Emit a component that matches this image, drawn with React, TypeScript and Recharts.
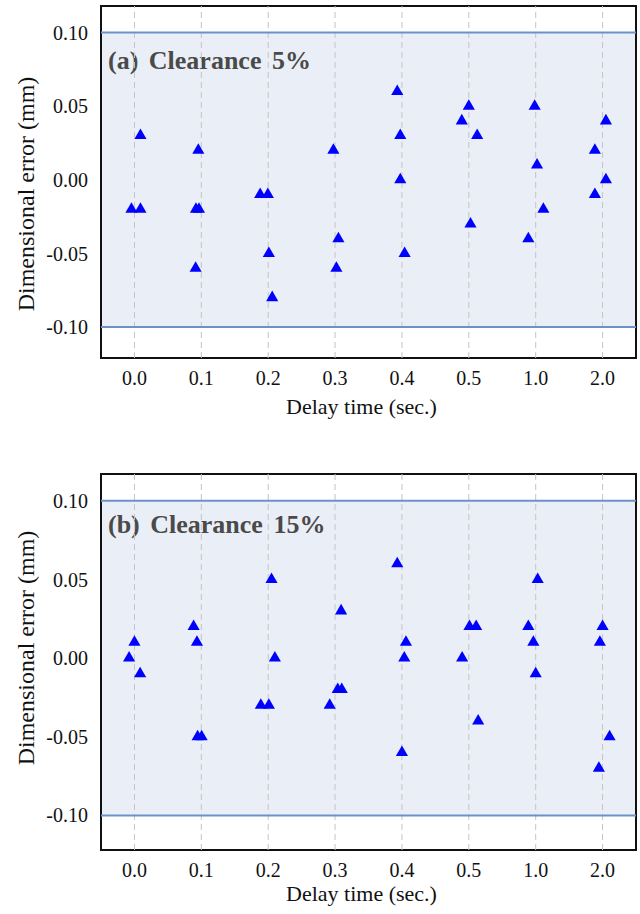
import React from "react";
import {
  ScatterChart,
  Scatter,
  XAxis,
  YAxis,
  ReferenceArea,
  ReferenceLine,
} from "recharts";

// delay time categories (x axis is categorical, points are jittered around each)
const categories = ["0.0", "0.1", "0.2", "0.3", "0.4", "0.5", "1.0", "2.0"];
const yTicks = [-0.1, -0.05, 0, 0.05, 0.1];
const toleranceLimit = 0.1;

// (a) Clearance 5%  - x = category index + jitter
const clearance5X = [
  -0.045, 0.09, 0.09,
  0.955, 0.92, 0.965, 0.915,
  1.88, 1.995, 2.01, 2.06,
  2.975, 3.05, 3.02,
  3.93, 3.975, 3.975, 4.04,
  5.0, 4.895, 5.125, 5.025,
  5.985, 6.02, 6.115, 5.89,
  7.05, 6.885, 7.05, 6.885,
];
const clearance5Y = [
  -0.02, -0.02, 0.03,
  0.02, -0.02, -0.02, -0.06,
  -0.01, -0.01, -0.05, -0.08,
  0.02, -0.04, -0.06,
  0.06, 0.03, 0.0, -0.05,
  0.05, 0.04, 0.03, -0.03,
  0.05, 0.01, -0.02, -0.04,
  0.04, 0.02, 0.0, -0.01,
];

// (b) Clearance 15%
const clearance15X = [
  0.0, -0.08, 0.085,
  0.885, 0.935, 0.945, 1.005,
  2.05, 2.1, 1.89, 2.01,
  3.09, 3.04, 3.1, 2.92,
  3.93, 4.035, 4.06, 4.0,
  5.01, 5.11, 4.9, 5.14,
  6.03, 5.89, 5.965, 6.0,
  7.0, 6.96, 7.105, 6.945,
];
const clearance15Y = [
  0.01, 0.0, -0.01,
  0.02, 0.01, -0.05, -0.05,
  0.05, 0.0, -0.03, -0.03,
  0.03, -0.02, -0.02, -0.03,
  0.06, 0.0, 0.01, -0.06,
  0.02, 0.02, 0.0, -0.04,
  0.05, 0.02, 0.01, -0.01,
  0.02, 0.01, -0.05, -0.07,
];

const serif = "Liberation Serif";

// force the serif face on every chart text
const fontCss = `
  .err-chart, .err-chart svg, .err-chart text, .err-chart tspan {
    font-family: "Liberation Serif", serif !important;
  }
`;

interface PanelProps {
  title: string;
  xs: number[];
  ys: number[];
  yDomain: [number, number];
  height: number;
  xAxisHeight: number;
  xLabelDy: number;
  titleDy: number;
  yLabelShift: number;
}

function ErrorPanel({
  title,
  xs,
  ys,
  yDomain,
  height,
  xAxisHeight,
  xLabelDy,
  titleDy,
  yLabelShift,
}: PanelProps) {
  const data = xs.map((x, i) => ({ x, y: ys[i] }));

  return (
    <ScatterChart
      width={640}
      height={height}
      margin={{ top: 6, right: 4, bottom: 0, left: 0 }}
      className="err-chart"
    >
      <XAxis
        type="number"
        dataKey="x"
        domain={[-0.5, categories.length - 0.5]}
        ticks={categories.map((_c, i) => i)}
        tickFormatter={(v: number) => categories[v] ?? ""}
        allowDataOverflow
        axisLine={false}
        tickLine={false}
        tickSize={0}
        tickMargin={13}
        height={xAxisHeight}
        tick={{ fill: "#111", fontSize: 20, fontFamily: serif }}
        label={{
          content: ({ viewBox }: any) => (
            <text
              x={viewBox.x + viewBox.width / 2 - 7}
              y={viewBox.y + xLabelDy}
              textAnchor="middle"
              fontSize={22}
              fontFamily={serif}
              fill="#111"
            >
              Delay time (sec.)
            </text>
          ),
        }}
      />
      <YAxis
        type="number"
        dataKey="y"
        domain={yDomain}
        ticks={yTicks}
        tickFormatter={(v: number) => v.toFixed(2)}
        allowDataOverflow
        axisLine={false}
        tickLine={false}
        tickSize={0}
        tickMargin={13}
        width={101}
        tick={{ fill: "#111", fontSize: 20, fontFamily: serif }}
        label={{
          content: ({ viewBox }: any) => {
            const cx = 26;
            const cy = viewBox.y + viewBox.height / 2 + yLabelShift;
            return (
              <text
                x={cx}
                y={cy}
                transform={`rotate(-90, ${cx}, ${cy})`}
                textAnchor="middle"
                dominantBaseline="central"
                fontSize={24}
                fontFamily={serif}
                fill="#111"
              >
                Dimensional error (mm)
              </text>
            );
          },
        }}
      />
      {/* tolerance band */}
      <ReferenceArea
        x1={-0.5}
        x2={categories.length - 0.5}
        y1={-toleranceLimit}
        y2={toleranceLimit}
        fill="#eaeff7"
        fillOpacity={1}
        stroke="none"
        label={{
          content: ({ viewBox }: any) => (
            <text
              x={viewBox.x + 7}
              y={viewBox.y + titleDy}
              fontSize={26}
              fontWeight="bold"
              fontFamily={serif}
              wordSpacing={4}
              fill="#4a4a4a"
            >
              {title}
            </text>
          ),
        }}
      />
      {categories.map((c, i) => (
        <ReferenceLine
          key={c}
          x={i}
          stroke="#c4c4c4"
          strokeWidth={1}
          strokeDasharray="6 4"
        />
      ))}
      <ReferenceLine y={toleranceLimit} stroke="#6d92c9" strokeWidth={2} />
      <ReferenceLine y={-toleranceLimit} stroke="#6d92c9" strokeWidth={2} />
      {/* plot frame */}
      <ReferenceArea
        x1={-0.5}
        x2={categories.length - 0.5}
        y1={yDomain[0]}
        y2={yDomain[1]}
        fill="none"
        stroke="#111"
        strokeWidth={2}
      />
      <Scatter
        data={data}
        shape="triangle"
        size={24}
        fill="#0000ff"
        legendType="none"
        isAnimationActive={false}
      />
    </ScatterChart>
  );
}

export default function App() {
  return (
    <div
      style={{
        position: "absolute",
        left: 0,
        top: 0,
        width: 640,
        height: 914,
        background: "#fff",
      }}
    >
      <style>{fontCss}</style>
      <div style={{ position: "absolute", left: 0, top: 0 }}>
        <ErrorPanel
          title="(a) Clearance 5%"
          xs={clearance5X}
          ys={clearance5Y}
          yDomain={[-0.121, 0.118]}
          height={420}
          xAxisHeight={62}
          xLabelDy={56}
          titleDy={36}
          yLabelShift={12}
        />
      </div>
      <div style={{ position: "absolute", left: 0, top: 468 }}>
        <ErrorPanel
          title="(b) Clearance 15%"
          xs={clearance15X}
          ys={clearance15Y}
          yDomain={[-0.122, 0.117]}
          height={446}
          xAxisHeight={64}
          xLabelDy={51}
          titleDy={32}
          yLabelShift={-14}
        />
      </div>
    </div>
  );
}
